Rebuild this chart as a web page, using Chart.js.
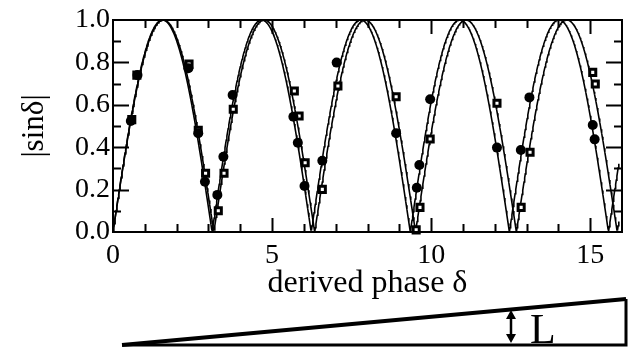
<!DOCTYPE html>
<html>
<head>
<meta charset="utf-8">
<script src="https://cdn.jsdelivr.net/npm/chart.js@4/dist/chart.umd.min.js"></script>
<style>
  body { margin: 0; background: #fff; }
</style>
</head>
<body>
<canvas id="myChart" width="632" height="347"></canvas>
<script>
// measured points, two runs
var circleX = [0.56, 0.77, 2.37, 2.68, 2.89, 3.28, 3.47, 3.76, 5.67, 5.81, 6.02, 6.58, 7.03,
               8.90, 9.55, 9.63, 9.97, 12.07, 12.82, 13.09, 15.08, 15.14];
var circleY = [0.524, 0.74, 0.772, 0.466, 0.237, 0.175, 0.355, 0.646, 0.544, 0.421, 0.217, 0.336, 0.799,
               0.466, 0.209, 0.316, 0.626, 0.398, 0.387, 0.635, 0.505, 0.437];
var squareX = [0.59, 0.75, 2.39, 2.68, 2.91, 3.31, 3.49, 3.78, 5.70, 5.85, 6.04, 6.58, 7.07,
               8.90, 9.53, 9.65, 9.97, 12.07, 12.83, 13.11, 15.08, 15.16];
var squareY = [0.53, 0.74, 0.792, 0.48, 0.277, 0.10, 0.277, 0.579, 0.665, 0.547, 0.327, 0.201, 0.689,
               0.638, 0.01, 0.116, 0.439, 0.607, 0.116, 0.376, 0.753, 0.698];

// |sin| model curves: spacing between zeros for each fit
var zeroSpacing = [3.115, 3.17];
var curveEnd = 15.9;

var xTickLabels = [0, 5, 10, 15];
var yTickLabels = [0, 0.2, 0.4, 0.6, 0.8, 1.0];

function pairs(xs, ys) {
    return xs.map(function (v, i) { return { x: v, y: ys[i] }; });
}

function model(spacing) {
    var pts = [];
    var k = Math.PI / spacing;
    for (var i = 0; i * 0.02 <= curveEnd + 1e-9; i++) {
        var d = i * 0.02;
        pts.push({ x: d, y: Math.abs(Math.sin(k * d)) });
    }
    return pts;
}

var serif = 'Liberation Serif, Times New Roman, serif';

// frame with inward ticks on all four sides, plus the wedge sketch underneath
var framePlugin = {
    id: 'frame',
    afterDatasetsDraw: function (chart) {
        var ctx = chart.ctx, a = chart.chartArea;
        var x = chart.scales.x, y = chart.scales.y;
        ctx.save();
        ctx.strokeStyle = '#000';
        ctx.lineWidth = 2;
        ctx.strokeRect(a.left, a.top, a.right - a.left, a.bottom - a.top);
        ctx.beginPath();
        for (var v = 1; v < 16; v++) {
            var px = Math.round(x.getPixelForValue(v)) + 0.5;
            var len = v % 5 === 0 ? 14 : 8;
            ctx.moveTo(px, a.bottom); ctx.lineTo(px, a.bottom - len);
            ctx.moveTo(px, a.top); ctx.lineTo(px, a.top + len);
        }
        for (var i = 1; i < 10; i++) {
            var py = Math.round(y.getPixelForValue(i / 10)) + 0.5;
            var l2 = i % 2 === 0 ? 16 : 8;
            ctx.moveTo(a.left, py); ctx.lineTo(a.left + l2, py);
            ctx.moveTo(a.right, py); ctx.lineTo(a.right - l2, py);
        }
        ctx.stroke();
        ctx.restore();
    },
    afterDraw: function (chart) {
        var ctx = chart.ctx;
        ctx.save();
        ctx.strokeStyle = '#000';
        ctx.fillStyle = '#000';
        ctx.lineJoin = 'miter';
        // wedge
        ctx.lineWidth = 4;
        ctx.beginPath();
        ctx.moveTo(122, 345);
        ctx.lineTo(626, 299);
        ctx.stroke();
        ctx.lineWidth = 3;
        ctx.beginPath();
        ctx.moveTo(122, 345);
        ctx.lineTo(626, 345);
        ctx.lineTo(626, 299);
        ctx.stroke();
        // double arrow
        var ax = 511, top = 310, bot = 343;
        ctx.lineWidth = 2.5;
        ctx.beginPath();
        ctx.moveTo(ax, top + 6); ctx.lineTo(ax, bot - 6);
        ctx.stroke();
        ctx.beginPath();
        ctx.moveTo(ax, top); ctx.lineTo(ax - 5, top + 9); ctx.lineTo(ax + 5, top + 9); ctx.closePath();
        ctx.moveTo(ax, bot); ctx.lineTo(ax - 5, bot - 9); ctx.lineTo(ax + 5, bot - 9); ctx.closePath();
        ctx.fill();
        ctx.font = '42px ' + serif;
        ctx.textBaseline = 'alphabetic';
        ctx.fillText('L', 530, 343);
        ctx.restore();
    }
};

var ctx = document.getElementById('myChart').getContext('2d');
var myChart = new Chart(ctx, {
    type: 'scatter',
    data: {
        datasets: [{
            label: 'circles',
            data: pairs(circleX, circleY),
            pointStyle: 'circle',
            pointRadius: 5,
            pointBackgroundColor: '#000',
            pointBorderColor: '#000',
            pointBorderWidth: 0,
            clip: 10,
            order: 0
        }, {
            label: 'squares',
            data: pairs(squareX, squareY),
            pointStyle: 'rect',
            pointRadius: 4.3,
            pointBackgroundColor: '#fff',
            pointBorderColor: '#000',
            pointBorderWidth: 3,
            clip: 10,
            order: 1
        }, {
            label: 'fit 1',
            data: model(zeroSpacing[0]),
            showLine: true,
            pointRadius: 0,
            borderColor: '#000',
            borderWidth: 1.6,
            order: 2
        }, {
            label: 'fit 2',
            data: model(zeroSpacing[1]),
            showLine: true,
            pointRadius: 0,
            borderColor: '#000',
            borderWidth: 1.6,
            order: 3
        }]
    },
    options: {
        responsive: false,
        animation: false,
        devicePixelRatio: 1,
        layout: { padding: { top: 20, right: 10, bottom: 44, left: 0 } },
        plugins: {
            legend: { display: false },
            tooltip: { enabled: false }
        },
        scales: {
            x: {
                type: 'linear',
                min: 0,
                max: 16,
                grid: { display: false, drawTicks: false },
                border: { display: false },
                afterBuildTicks: function (scale) {
                    scale.ticks = xTickLabels.map(function (v) { return { value: v }; });
                },
                afterFit: function (scale) { scale.height = 71; },
                ticks: {
                    color: '#000',
                    padding: 7,
                    maxRotation: 0,
                    font: { family: serif, size: 28 }
                },
                title: {
                    display: true,
                    text: 'derived phase δ',
                    color: '#000',
                    padding: { top: 0, bottom: 0 },
                    font: { family: serif, size: 32 }
                }
            },
            y: {
                min: 0,
                max: 1,
                grid: { display: false, drawTicks: false },
                border: { display: false },
                afterBuildTicks: function (scale) {
                    scale.ticks = yTickLabels.map(function (v) { return { value: v }; });
                },
                afterFit: function (scale) { scale.width = 113; },
                ticks: {
                    color: '#000',
                    padding: 3,
                    font: { family: serif, size: 28 },
                    callback: function (v) { return Number(v).toFixed(1); }
                },
                title: {
                    display: true,
                    text: '|sinδ|',
                    color: '#000',
                    padding: { top: 16, bottom: 0 },
                    font: { family: serif, size: 31 }
                }
            }
        }
    },
    plugins: [framePlugin]
});
</script>
</body>
</html>
